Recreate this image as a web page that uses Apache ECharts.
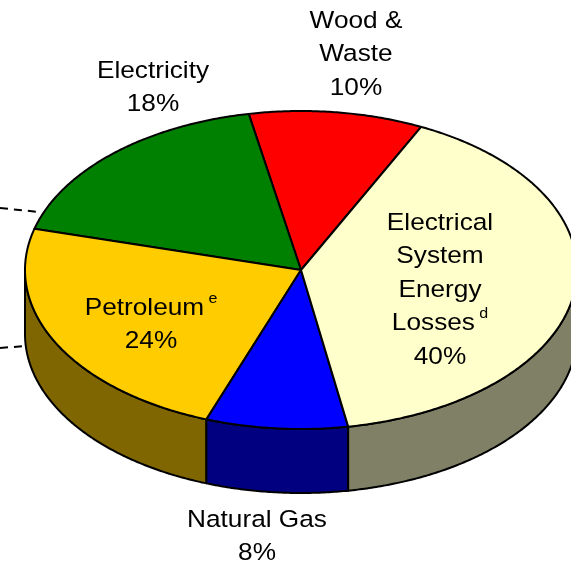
<!DOCTYPE html>
<html><head><meta charset="utf-8">
<script src="https://cdn.jsdelivr.net/npm/echarts@6/dist/echarts.min.js"></script>
<style>html,body{margin:0;padding:0;background:#fff}#c{width:571px;height:565px}</style>
</head><body><div id="c"></div>
<script>
// ---- data (shares; labels show rounded percentages) ----
const categories = ['Wood & Waste', 'Electricity', 'Petroleum', 'Natural Gas', 'Electrical System Energy Losses'];
const values = [10.2, 17.8, 23.6, 8.3, 40.1];
const labelLines = ['Wood &\nWaste', 'Electricity', 'Petroleum', 'Natural Gas', 'Electrical\nSystem\nEnergy\nLosses'];
const footnotes = ['', '', 'e', '', 'd'];

// ---- styling / layout ----
const topColors = ['#FF0000', '#008000', '#FFCC00', '#0000FF', '#FFFFCC'];
const sideColors = ['#800000', '#004000', '#806600', '#000080', '#808066'];
const CX = 301, CY = 270, RX = 276, RY = 159, DEPTH = 64, START = 64.2;
const labelPos = [[356, 54.5], [153, 87.5], [151, 324.5], [257, 536.5], [440, 290]];
const FONT = '"Liberation Sans", Arial, sans-serif';

const total = values.reduce((a, b) => a + b, 0);
const cum = [];
values.reduce((acc, v, i) => { cum[i] = acc; return acc + v; }, 0);

function pt(a, dy) {
  const r = a * Math.PI / 180;
  return [CX + RX * Math.cos(r), CY - RY * Math.sin(r) + (dy || 0)];
}
function arc(a0, a1, dy) {
  const pts = [];
  const n = Math.max(2, Math.ceil(Math.abs(a1 - a0) / 0.5));
  for (let k = 0; k <= n; k++) pts.push(pt(a0 + (a1 - a0) * k / n, dy));
  return pts;
}

function renderItem(params, api) {
  const i = params.dataIndex;
  const v = api.value(0);
  const a0 = START + cum[i] / total * 360;
  const a1 = a0 + v / total * 360;
  const children = [];
  // visible side wall (front half: 180..360 deg)
  for (let k = 0; k < 2; k++) {
    const lo = Math.max(a0, 180 + 360 * k), hi = Math.min(a1, 360 + 360 * k);
    if (hi > lo) {
      const pts = arc(lo, hi, 0).concat(arc(hi, lo, DEPTH));
      children.push({
        type: 'polygon', z2: 1,
        shape: { points: pts },
        style: { fill: sideColors[i], stroke: '#000', lineWidth: 2, lineJoin: 'round' }
      });
    }
  }
  // top face
  children.push({
    type: 'polygon', z2: 2,
    shape: { points: [[CX, CY]].concat(arc(a0, a1, 0)) },
    style: { fill: topColors[i], stroke: '#000', lineWidth: 2, lineJoin: 'round' }
  });
  // label
  const lines = labelLines[i].split('\n').map(l => '{n|' + l + '}');
  if (footnotes[i]) lines[lines.length - 1] += '{s|' + footnotes[i] + '}';
  lines.push('{n|' + Math.round(v) + '%}');
  children.push({
    type: 'text', z2: 3,
    x: labelPos[i][0], y: labelPos[i][1], scaleX: 1.07, scaleY: 1,
    style: {
      text: lines.join('\n'),
      x: 0, y: 0,
      align: 'center', verticalAlign: 'middle',
      rich: {
        n: { fontSize: 24.5, lineHeight: 33.5, fontFamily: FONT, fill: '#000' },
        s: { fontSize: 15, lineHeight: 20, fontFamily: FONT, fill: '#000', verticalAlign: 'top', padding: [0, 0, 0, 4] }
      }
    }
  });
  return { type: 'group', children: children };
}

const chart = echarts.init(document.getElementById('c'), null, { renderer: 'canvas' });
chart.setOption({
  animation: false,
  backgroundColor: '#fff',
  graphic: [
    { type: 'line', shape: { x1: 0, y1: 208, x2: 39, y2: 212 }, style: { stroke: '#000', lineWidth: 2, lineDash: [8, 6] }, z: 10 },
    { type: 'line', shape: { x1: 0, y1: 348, x2: 25, y2: 346 }, style: { stroke: '#000', lineWidth: 2, lineDash: [8, 6] }, z: 10 }
  ],
  series: [{
    type: 'custom',
    coordinateSystem: 'none',
    renderItem: renderItem,
    data: values.map((v, i) => ({ name: categories[i], value: [v] }))
  }]
});
</script>
</body></html>
